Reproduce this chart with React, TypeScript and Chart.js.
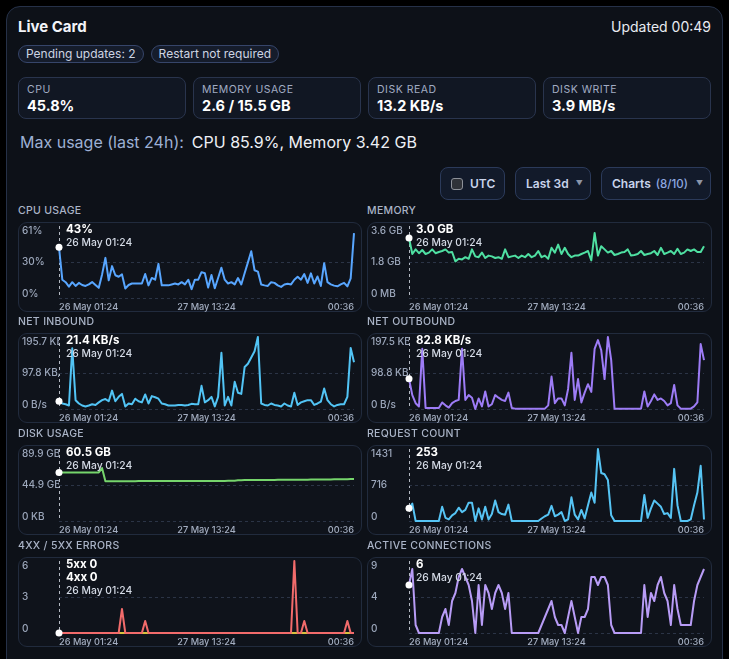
import React, { useEffect, useRef } from 'react';
import { Chart, registerables } from 'chart.js';

Chart.register(...registerables);

// ---------- data ----------
const xTickLabels = ['26 May 01:24', '27 May 13:24', '00:36'];
const cursorTimeLabel = '26 May 01:24';

const cpuValues = [
  43, 15.5, 13.4, 9.6, 13.4, 10.2, 12.8, 11, 10.2, 11.5,
  13.5, 11, 8.6, 20, 34, 15, 27, 19.3, 18, 20,
  8, 11, 12.3, 12.3, 12.3, 12.3, 20.3, 10.7, 17, 15.5,
  28.9, 10.7, 10.7, 10.7, 11.5, 12.3, 11.5, 13.4, 11.5, 15.5,
  7.5, 15.5, 15.5, 21.9, 21, 8.8, 19.5, 8.3, 16.9, 25.7,
  15.5, 12.3, 13.4, 11.5, 16.9, 11.5, 20.9, 30.2, 39.6, 23.5,
  22.4, 11.5, 10.7, 10.2, 13.4, 12.8, 10.7, 9.4, 11.5, 12,
  11.5, 15.5, 18, 15.5, 20.3, 12.8, 20.9, 12.3, 18.2, 10.2,
  29.5, 13.4, 11.5, 10.5, 9.9, 11.5, 12.8, 9.9, 16.6, 55,
];
const cpuAxisMax = 61;
const cpuAxisLabels = ['0%', '30%', '61%'];

const memoryValues = [
  3.0, 2.2, 2.43, 2.24, 2.4, 2.2, 2.27, 2.43, 2.24, 2.3,
  2.35, 2.43, 2.27, 2.3, 1.83, 1.96, 1.93, 2.04, 1.96, 2.43,
  2.08, 2.04, 2.27, 2.0, 2.12, 2.08, 2.0, 2.04, 1.96, 2.43,
  2.04, 2.08, 2.12, 2.0, 2.12, 2.04, 2.2, 2.04, 2.12, 2.35,
  2.04, 2.12, 1.96, 2.51, 2.27, 2.67, 2.2, 2.51, 2.2, 2.04,
  2.12, 2.12, 2.2, 2.27, 2.35, 1.88, 3.25, 2.12, 2.59, 2.43,
  2.27, 2.35, 2.15, 2.2, 2.27, 2.3, 2.43, 2.12, 2.15, 2.2,
  2.35, 2.15, 2.2, 2.24, 2.35, 2.15, 2.51, 2.2, 2.27, 2.35,
  2.2, 2.46, 2.2, 2.27, 2.43, 2.35, 2.43, 2.3, 2.3, 2.59,
];
const memoryAxisMax = 3.6;
const memoryAxisLabels = ['0 MB', '1.8 GB', '3.6 GB'];

const netInValues = [
  21.4, 15, 13, 9.5, 165, 24, 15, 9.5, 7, 9.5,
  13, 11, 18, 24, 27, 21, 50, 21, 33, 41,
  7, 15, 13, 28, 21, 18, 39.5, 15, 35, 32,
  28, 15, 13, 9.5, 9.5, 9.5, 11, 11, 9.5, 11,
  14, 13, 13, 63, 18, 24, 33, 7, 33, 153,
  9.5, 33, 9.5, 74, 44, 41, 114, 123, 140, 157,
  195.7, 15, 11, 9.5, 15, 11, 9.5, 7, 15, 9.5,
  7, 44, 11, 18, 21, 24, 24, 11, 15, 20,
  56, 24, 13, 7, 11, 13, 13, 33, 166, 127,
];
const netInAxisMax = 195.7;
const netInAxisLabels = ['0 B/s', '97.8 KB/s', '195.7 KB/s'];

const netOutValues = [
  82.8, 38, 16, 7, 165, 3, 3, 3, 3, 3,
  18, 10, 4, 16, 22, 25, 165, 25, 38, 31,
  0, 29, 7, 48, 7, 13, 38, 31, 25, 22,
  45, 3, 1, 1, 1, 1, 1, 1, 1, 1,
  1, 1, 10, 89, 16, 29, 29, 10, 55, 154,
  25, 82, 18, 45, 68, 47, 165, 189, 161, 82,
  197.5, 134, 1, 1, 1, 1, 1, 1, 1, 1,
  1, 48, 7, 22, 40, 25, 29, 22, 10, 16,
  66, 10, 1, 1, 1, 1, 7, 18, 178, 134,
];
const netOutAxisMax = 197.5;
const netOutAxisLabels = ['0 B/s', '98.8 KB/s', '197.5 KB/s'];

const diskValues = [
  60.5, 60.5, 60.5, 60.5, 60.5, 60.5, 60.5, 60.5, 60.5, 60.5,
  60.5, 60.5, 60.6, 66.0, 49.6, 49.6, 49.6, 49.6, 49.7, 49.7,
  49.7, 49.7, 49.7, 49.7, 49.8, 49.8, 49.8, 49.8, 49.8, 49.8,
  49.8, 49.9, 49.9, 49.9, 49.9, 49.9, 49.9, 49.9, 49.9, 50.0,
  50.0, 50.0, 50.0, 50.0, 50.0, 50.0, 50.1, 50.1, 50.1, 50.1,
  50.1, 50.2, 50.2, 50.4, 50.8, 51.0, 51.2, 51.2, 51.2, 51.1,
  51.1, 51.2, 51.2, 51.3, 51.3, 51.3, 51.4, 51.4, 51.4, 51.4,
  51.5, 51.5, 51.5, 51.6, 51.6, 51.6, 51.7, 51.7, 51.8, 51.8,
  51.8, 51.9, 51.9, 52.0, 52.0, 52.1, 52.1, 52.2, 52.3, 52.4,
];
const diskAxisMax = 89.9;
const diskAxisLabels = ['0 KB', '44.9 GB', '89.9 GB'];

const requestValues = [
  253, 345, 0, 0, 0, 0, 0, 0, 0, 0,
  282, 63, 31, 113, 157, 264, 176, 220, 364, 364,
  0, 251, 31, 282, 31, 138, 408, 176, 138, 126,
  326, 0, 0, 0, 0, 0, 0, 0, 0, 0,
  50, 94, 126, 301, 94, 126, 176, 0, 31, 471,
  126, 31, 220, 50, 314, 565, 364, 1431, 954, 929,
  816, 113, 0, 0, 0, 0, 0, 0, 0, 0,
  0, 515, 63, 251, 408, 345, 282, 138, 157, 63,
  1036, 314, 0, 0, 0, 31, 314, 565, 1098, 31,
];
const requestAxisMax = 1431;
const requestAxisLabels = ['0', '716', '1431'];

const errors5xxValues = [
  0, 0, 0, 0, 0, 0, 0, 0, 0, 0,
  0, 0, 0, 0, 0, 0, 0, 0, 0, 2,
  0, 0, 0, 0, 0, 0, 1, 0, 0, 0,
  0, 0, 0, 0, 0, 0, 0, 0, 0, 0,
  0, 0, 0, 0, 0, 0, 0, 0, 0, 0,
  0, 0, 0, 0, 0, 0, 0, 0, 0, 0,
  0, 0, 0, 0, 0, 0, 0, 0, 0, 0,
  0, 6, 0, 0, 1, 0, 0, 0, 0, 0,
  0, 0, 0, 0, 0, 0, 0, 1, 0, 0,
];
const errors4xxValues = [
  0, 0, 0, 0, 0, 0, 0, 0, 0, 0,
  0, 0, 0, 0, 0, 0, 0, 0, 0, 0,
  0, 0, 0, 0, 0, 0, 0, 0, 0, 0,
  0, 0, 0, 0, 0, 0, 0, 0, 0, 0,
  0, 0, 0, 0, 0, 0, 0, 0, 0, 0,
  0, 0, 0, 0, 0, 0, 0, 0, 0, 0,
  0, 0, 0, 0, 0, 0, 0, 0, 0, 0,
  0, 0, 0, 0, 0, 0, 0, 0, 0, 0,
  0, 0, 0, 0, 0, 0, 0, 0, 0, 0,
];
const errorsAxisMax = 6;
const errorsAxisLabels = ['0', '3', '6'];

const connValues = [
  6, 8, 1, 0, 0, 0, 0, 0, 0, 0,
  2, 3, 1, 4, 5, 7, 8, 7, 6, 4,
  0, 6, 1, 6, 5, 3, 5, 6, 5, 3,
  5, 0, 0, 0, 0, 0, 0, 0, 0, 0,
  1, 2, 3, 4, 2, 1, 1, 0, 2, 4,
  2, 0, 2, 2, 3, 7, 7, 6, 7, 7,
  6, 1, 0, 0, 0, 0, 0, 0, 0, 0,
  0, 6, 2, 5, 4, 6, 7, 5, 4, 1,
  6, 3, 1, 1, 1, 1, 4, 6, 7, 8,
];
const connAxisMax = 9;
const connAxisLabels = ['0', '4', '9'];

const statLabels = ['CPU', 'MEMORY USAGE', 'DISK READ', 'DISK WRITE'];
const statValues = ['45.8%', '2.6 / 15.5 GB', '13.2 KB/s', '3.9 MB/s'];

// ---------- chart ----------
const FONT = 'Inter, "Noto Sans", "DejaVu Sans", sans-serif';

type ChartProps = {
  width: number;
  height: number;
  plotLeft: number;
  series: number[][];
  colors: string[];
  axisMax: number;
  axisLabels: string[];
};

function MiniChart({ width, height, plotLeft, series, colors, axisMax, axisLabels }: ChartProps) {
  const ref = useRef<HTMLCanvasElement | null>(null);
  useEffect(() => {
    const canvas = ref.current;
    if (!canvas) return;
    const last = series[0].length - 1;
    const padLeft = 4;
    const chart = new Chart(canvas, {
      type: 'line',
      data: {
        datasets: series.map((vals, k) => ({
          data: vals.map((v, i) => ({ x: i, y: v })),
          borderColor: colors[k],
          backgroundColor: colors[k],
          borderWidth: 2,
          borderJoinStyle: 'round',
          tension: 0,
          fill: false,
          clip: false,
          pointRadius: (c: any) => (k === 0 && c.dataIndex === 0 ? 3.5 : 0),
          pointBackgroundColor: '#ffffff',
          pointBorderColor: '#ffffff',
          pointBorderWidth: 0,
        })),
      },
      options: {
        animation: false,
        responsive: false,
        events: [],
        layout: { padding: { left: padLeft, right: 8, top: 0, bottom: 0 } },
        plugins: { legend: { display: false }, tooltip: { enabled: false } },
        scales: {
          x: {
            type: 'linear',
            min: 0,
            max: last,
            afterBuildTicks: (s: any) => {
              s.ticks = [{ value: 0 }, { value: last / 2 }, { value: last }];
            },
            afterFit: (s: any) => {
              s.height = 14;
              s.paddingLeft = 0;
              s.paddingRight = 0;
            },
            ticks: {
              align: 'inner',
              maxRotation: 0,
              minRotation: 0,
              autoSkip: false,
              padding: 4,
              color: '#a4aec1',
              font: { family: FONT, size: 9.2, weight: 500 },
              callback: (_v: any, i: number) => xTickLabels[i],
            },
            grid: {
              drawTicks: false,
              lineWidth: 1,
              color: (c: any) => (c.index === 0 ? 'rgba(235,240,250,0.75)' : 'rgba(0,0,0,0)'),
            },
            border: { display: false, dash: [3, 3] },
          },
          y: {
            min: 0,
            max: axisMax,
            afterBuildTicks: (s: any) => {
              s.ticks = [{ value: 0 }, { value: axisMax / 2 }, { value: axisMax }];
            },
            afterFit: (s: any) => {
              s.width = plotLeft - padLeft;
              s.paddingTop = 0;
              s.paddingBottom = 0;
            },
            ticks: {
              crossAlign: 'far',
              padding: 0,
              color: '#9ca7bb',
              font: { family: FONT, size: 10, weight: 500, lineHeight: 0.9 },
              callback: (_v: any, i: number) =>
                i === 2 ? ['', axisLabels[2]] : i === 0 ? [axisLabels[0], ''] : axisLabels[1],
            },
            grid: {
              drawTicks: false,
              lineWidth: 1,
              color: (c: any) => (c.index === 2 ? 'rgba(0,0,0,0)' : '#2b3446'),
            },
            border: { display: false, dash: [3, 3] },
          },
        },
      } as any,
    } as any);
    return () => chart.destroy();
  }, []);
  return (
    <canvas
      ref={ref}
      width={width}
      height={height}
      style={{ position: 'absolute', left: -1, top: -1, width, height, display: 'block' }}
    />
  );
}

type PanelSpec = {
  title: string;
  col: number;
  row: number;
  series: number[][];
  colors: string[];
  axisMax: number;
  axisLabels: string[];
  tip: string[];
};

const panels: PanelSpec[] = [
  { title: 'CPU USAGE', col: 0, row: 0, series: [cpuValues], colors: ['#58a6ff'], axisMax: cpuAxisMax, axisLabels: cpuAxisLabels, tip: ['43%'] },
  { title: 'MEMORY', col: 1, row: 0, series: [memoryValues], colors: ['#4fe0a2'], axisMax: memoryAxisMax, axisLabels: memoryAxisLabels, tip: ['3.0 GB'] },
  { title: 'NET INBOUND', col: 0, row: 1, series: [netInValues], colors: ['#52c4f5'], axisMax: netInAxisMax, axisLabels: netInAxisLabels, tip: ['21.4 KB/s'] },
  { title: 'NET OUTBOUND', col: 1, row: 1, series: [netOutValues], colors: ['#9d7cf6'], axisMax: netOutAxisMax, axisLabels: netOutAxisLabels, tip: ['82.8 KB/s'] },
  { title: 'DISK USAGE', col: 0, row: 2, series: [diskValues], colors: ['#76d56c'], axisMax: diskAxisMax, axisLabels: diskAxisLabels, tip: ['60.5 GB'] },
  { title: 'REQUEST COUNT', col: 1, row: 2, series: [requestValues], colors: ['#56c4f4'], axisMax: requestAxisMax, axisLabels: requestAxisLabels, tip: ['253'] },
  { title: '4XX / 5XX ERRORS', col: 0, row: 3, series: [errors5xxValues, errors4xxValues], colors: ['#f26b6b', '#d8c23e'], axisMax: errorsAxisMax, axisLabels: errorsAxisLabels, tip: ['5xx 0', '4xx 0'] },
  { title: 'ACTIVE CONNECTIONS', col: 1, row: 3, series: [connValues], colors: ['#b89cf6'], axisMax: connAxisMax, axisLabels: connAxisLabels, tip: ['6'] },
];

const rowTops = [222, 333, 445, 557];
const colLefts = [18, 367];
const colWidths = [344, 345];
const colPlotLefts = [41, 42];
const PANEL_H = 90;

const abs = (l: number, t: number, w?: number, h?: number): React.CSSProperties => ({
  position: 'absolute',
  left: l,
  top: t,
  width: w,
  height: h,
  boxSizing: 'border-box',
});

export default function App() {
  const statLefts = [18, 193, 368, 543];
  return (
    <div
      style={{
        position: 'fixed',
        left: 0,
        top: 0,
        width: 729,
        height: 659,
        overflow: 'hidden',
        background: '#000000',
        fontFamily: FONT,
      }}
    >
      <div
        style={{
          ...abs(6, 6, 717, 700),
          border: '1px solid #263148',
          borderRadius: 14,
          background: '#0d1118',
        }}
      />
      <div style={{ ...abs(18, 18), fontSize: 15, lineHeight: '18px', fontWeight: 700, color: '#f2f4f8' }}>Live Card</div>
      <div style={{ ...abs(500, 18, 211), textAlign: 'right', fontSize: 14, lineHeight: '18px', fontWeight: 400, color: '#e8ebf1' }}>
        Updated 00:49
      </div>

      <div style={{ ...abs(18, 45), display: 'flex', gap: 7 }}>
        {['Pending updates: 2', 'Restart not required'].map((t) => (
          <div
            key={t}
            style={{
              height: 18,
              boxSizing: 'border-box',
              padding: '0 7px',
              border: '1px solid #36456a',
              borderRadius: 9,
              background: '#151c2b',
              color: '#cdd4e2',
              fontSize: 12,
              lineHeight: '16px',
              whiteSpace: 'nowrap',
            }}
          >
            {t}
          </div>
        ))}
      </div>

      {statLabels.map((lab, i) => (
        <div
          key={lab}
          style={{
            ...abs(statLefts[i], 77, 168, 42),
            border: '1px solid #29344d',
            borderRadius: 8,
            background: '#111723',
          }}
        >
          <div style={{ position: 'absolute', left: 8, top: 5, fontSize: 10.5, lineHeight: '13px', letterSpacing: 0.5, color: '#a1acc3' }}>
            {lab}
          </div>
          <div style={{ position: 'absolute', left: 8, top: 19, fontSize: 14.5, lineHeight: '18px', fontWeight: 700, color: '#ffffff', whiteSpace: 'nowrap' }}>
            {statValues[i]}
          </div>
        </div>
      ))}

      <div style={{ ...abs(20, 132), fontSize: 16, lineHeight: '20px', whiteSpace: 'nowrap' }}>
        <span style={{ color: '#9db0d4' }}>Max usage (last 24h):</span>
        <span style={{ color: '#edf0f5', marginLeft: 8 }}>CPU 85.9%, Memory 3.42 GB</span>
      </div>

      {/* controls */}
      <div
        style={{
          ...abs(440, 167, 65, 33),
          border: '1px solid #2b3a5a',
          borderRadius: 8,
          background: '#121a2a',
          display: 'flex',
          alignItems: 'center',
          paddingLeft: 10,
          gap: 7,
        }}
      >
        <div style={{ width: 12, height: 12, boxSizing: 'border-box', border: '1.5px solid #8d9199', borderRadius: 3, background: '#2f3238' }} />
        <span style={{ fontSize: 12, fontWeight: 600, color: '#c8d3ea' }}>UTC</span>
      </div>
      <div
        style={{
          ...abs(515, 167, 76, 33),
          border: '1px solid #2b3a5a',
          borderRadius: 8,
          background: '#121a2a',
          display: 'flex',
          alignItems: 'center',
          paddingLeft: 10,
          gap: 7,
        }}
      >
        <span style={{ fontSize: 12, fontWeight: 600, color: '#c8d3ea' }}>Last 3d</span>
        <span style={{ fontSize: 7, color: '#8b95a8' }}>▼</span>
      </div>
      <div
        style={{
          ...abs(601, 167, 110, 33),
          border: '1px solid #2b3a5a',
          borderRadius: 8,
          background: '#121a2a',
          display: 'flex',
          alignItems: 'center',
          paddingLeft: 10,
        }}
      >
        <span style={{ fontSize: 12, fontWeight: 600, color: '#c8d3ea' }}>Charts</span>
        <span style={{ fontSize: 11.5, fontWeight: 500, color: '#8ea8e0', marginLeft: 5 }}>(8/10)</span>
        <span style={{ fontSize: 7, color: '#8b95a8', marginLeft: 8 }}>▼</span>
      </div>

      {panels.map((p) => {
        const left = colLefts[p.col];
        const top = rowTops[p.row];
        const w = colWidths[p.col];
        const plotLeft = colPlotLefts[p.col];
        return (
          <React.Fragment key={p.title}>
            <div
              style={{
                ...abs(left, top - 18),
                fontSize: 10.5,
                lineHeight: '14px',
                letterSpacing: 0.3,
                fontWeight: 500,
                color: '#aab4c7',
                whiteSpace: 'nowrap',
              }}
            >
              {p.title}
            </div>
            <div
              style={{
                ...abs(left, top, w, PANEL_H),
                border: '1px solid #212b3d',
                borderRadius: 9,
                background: '#0f131b',
              }}
            >
              <MiniChart
                width={w}
                height={PANEL_H}
                plotLeft={plotLeft}
                series={p.series}
                colors={p.colors}
                axisMax={p.axisMax}
                axisLabels={p.axisLabels}
              />
              <div style={{ position: 'absolute', left: plotLeft + 6, top: 0, whiteSpace: 'nowrap' }}>
                {p.tip.map((t) => (
                  <div key={t} style={{ fontSize: 11.5, lineHeight: '13px', fontWeight: 700, color: '#ffffff' }}>
                    {t}
                  </div>
                ))}
                <div style={{ fontSize: 10.3, lineHeight: '13px', fontWeight: 500, color: '#d5dbe6' }}>{cursorTimeLabel}</div>
              </div>
            </div>
          </React.Fragment>
        );
      })}
    </div>
  );
}
